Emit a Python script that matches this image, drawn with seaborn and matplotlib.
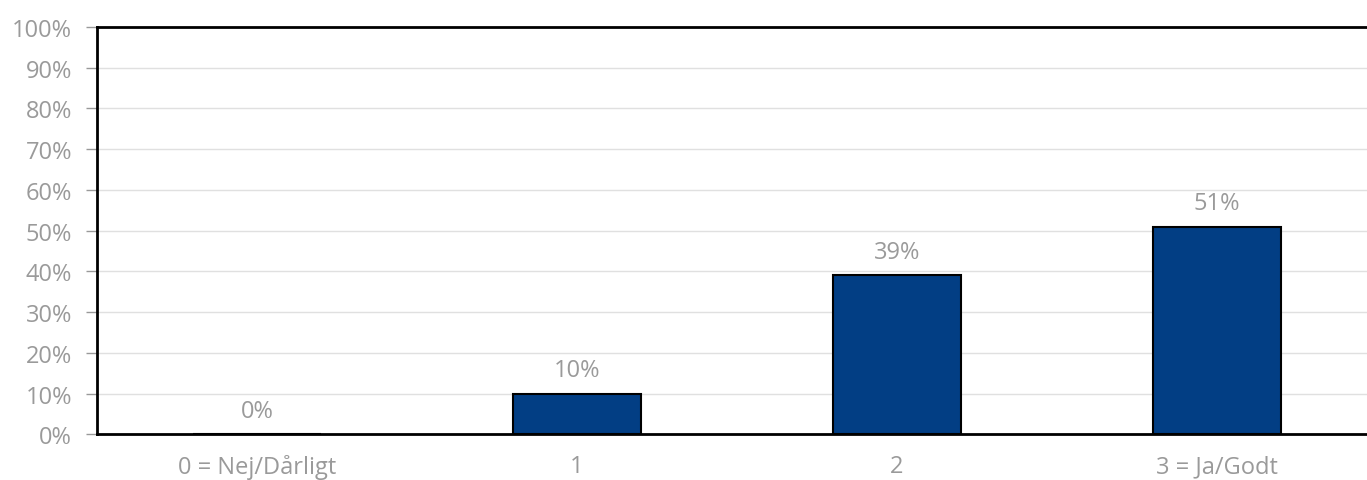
import matplotlib
matplotlib.use("Agg")
import matplotlib.pyplot as plt
import seaborn as sns
import pandas as pd

categories = ["0 = Nej/Dårligt", "1", "2", "3 = Ja/Godt"]
values = [0, 10, 39, 51]
yticks = list(range(0, 101, 10))

df = pd.DataFrame({"svar": categories, "andel": values})

sns.set_style("white")
plt.rcParams["font.family"] = ["Open Sans", "DejaVu Sans"]

fig = plt.figure(figsize=(13.67, 4.81), dpi=100)
ax = fig.add_axes([0.071, 0.095, 0.929, 0.847])

sns.barplot(data=df, x="svar", y="andel", color="#023E84", width=0.4,
            edgecolor="black", linewidth=1.5, saturation=1, ax=ax, zorder=3)

grey = "#9a9a9a"
for i, v in enumerate(values):
    ax.annotate(f"{v}%", (i, v), xytext=(0, 8), textcoords="offset points",
                ha="center", va="bottom", fontsize=17, color=grey)

ax.set_xlim(-0.5, 3.469)
ax.set_ylim(0, 100)
ax.set_yticks(yticks)
ax.set_yticklabels([f"{t}%" for t in yticks])
ax.yaxis.grid(True, color="#e0e0e0", linewidth=1, zorder=0)
ax.set_axisbelow(True)

ax.tick_params(axis="y", left=True, length=8, width=1, color="#999999",
               labelsize=17, labelcolor=grey, pad=10)
ax.tick_params(axis="x", bottom=False, labelsize=17, labelcolor=grey, pad=11)

for side in ["top", "left", "bottom"]:
    ax.spines[side].set_color("black")
    ax.spines[side].set_linewidth(2)
ax.spines["right"].set_visible(False)

ax.set_xlabel("")
ax.set_ylabel("")

fig.savefig("out.png", dpi=100)
